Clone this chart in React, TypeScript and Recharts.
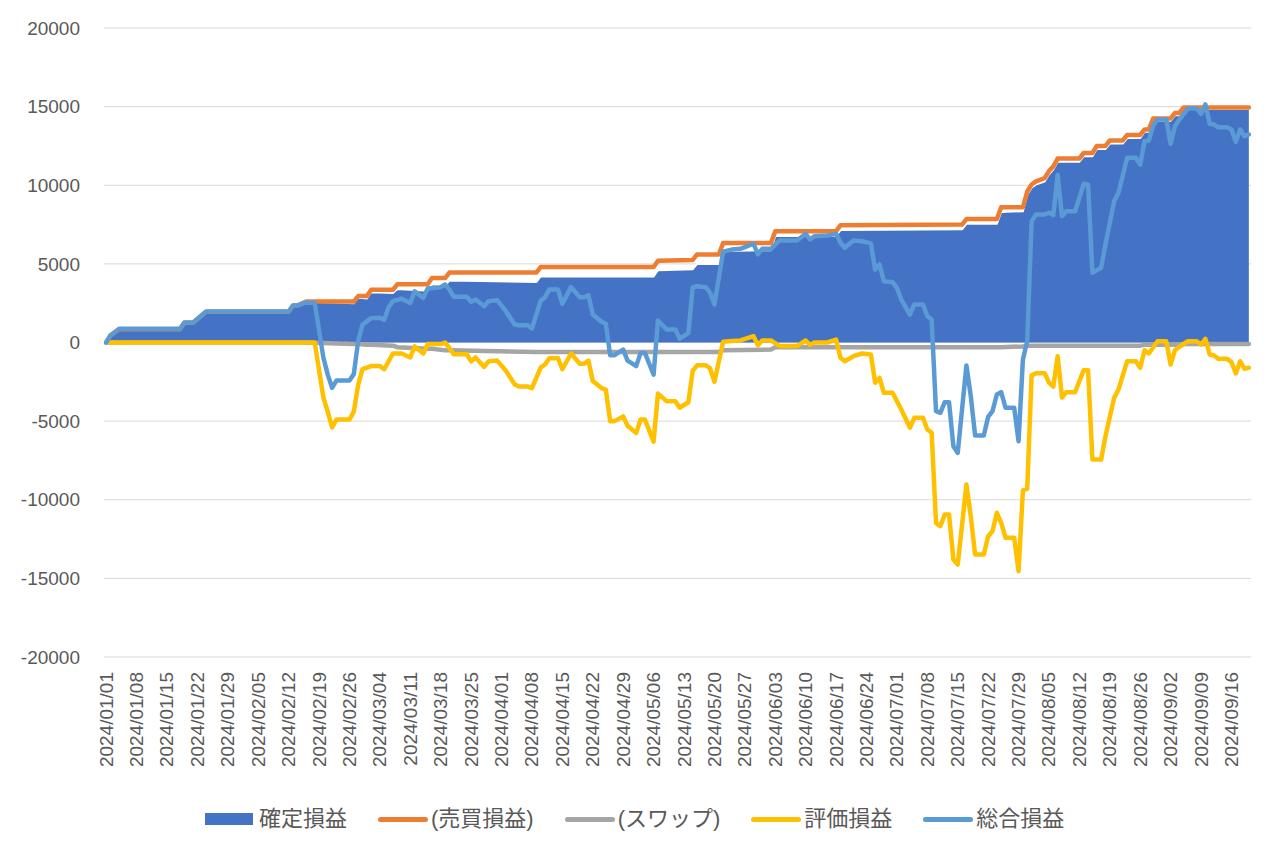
import React from "react";
import { ComposedChart, Area, Line, XAxis, YAxis, CartesianGrid } from "recharts";

// day index counted from 2024/01/01
const settleDays = [
  0, 1, 3, 17, 18, 20, 23, 42, 43, 44,
  46, 57, 58, 60, 61, 66, 67, 74, 75, 78,
  79, 99, 100, 126, 127, 135, 136, 141, 142, 153,
  154, 168, 169, 197, 198, 205, 206, 211, 212, 213,
  214, 216, 217, 218, 219, 224, 225, 227, 228, 230,
  231, 234, 235, 238, 239, 240, 241, 245, 246, 247,
  248, 263,
];

const settledPnl = [
  0, 450, 850, 850, 1250, 1250, 1950, 1950, 2350, 2350,
  2600, 2500, 2850, 2800, 3200, 3150, 3400, 3300, 3700, 3600,
  3950, 3850, 4200, 4200, 4600, 4650, 5000, 5000, 5820, 5870,
  6780, 6780, 7150, 7200, 7550, 7550, 8300, 8350, 9400, 9850,
  10050, 10250, 10700, 11000, 11500, 11500, 11850, 11850, 12300, 12300,
  12650, 12650, 13000, 13000, 13400, 13400, 14100, 14100, 14450, 14450,
  14850, 14850,
];

const tradePnl = [
  0, 450, 850, 850, 1250, 1250, 1950, 1950, 2350, 2350,
  2600, 2600, 2950, 2950, 3350, 3350, 3700, 3700, 4100, 4100,
  4450, 4450, 4800, 4800, 5200, 5250, 5600, 5600, 6320, 6320,
  7080, 7080, 7450, 7500, 7850, 7850, 8600, 8600, 9600, 10050,
  10250, 10450, 10900, 11200, 11700, 11700, 12050, 12050, 12500, 12500,
  12850, 12850, 13200, 13200, 13550, 13550, 14250, 14250, 14600, 14600,
  14950, 14950,
];

const swapPnl = [
  0, 0, 0, 0, 0, 0, 0, 0, 0, 0,
  0, -100, -100, -150, -150, -200, -300, -400, -400, -500,
  -500, -600, -600, -600, -600, -600, -600, -600, -500, -450,
  -300, -300, -300, -300, -300, -300, -300, -250, -200, -200,
  -200, -200, -200, -200, -200, -200, -200, -200, -200, -200,
  -200, -200, -200, -200, -150, -150, -150, -150, -150, -150,
  -100, -100,
];

const markDays = [
  0, 1, 3, 17, 18, 20, 23, 42, 43, 44,
  46, 48, 50, 51, 52, 53, 56, 57, 58, 59,
  61, 63, 64, 65, 66, 68, 70, 71, 73, 74,
  77, 78, 79, 80, 83, 84, 85, 87, 88, 90,
  92, 94, 95, 97, 98, 100, 101, 102, 104, 105,
  107, 109, 110, 111, 112, 114, 115, 116, 117, 119,
  120, 122, 123, 124, 126, 127, 129, 131, 132, 134,
  135, 136, 138, 139, 140, 142, 144, 146, 149, 150,
  151, 153, 155, 159, 161, 162, 163, 166, 168, 169,
  170, 172, 174, 176, 177, 178, 179, 181, 182, 183,
  185, 186, 188, 189, 190, 191, 192, 193, 194, 195,
  196, 198, 199, 200, 202, 203, 204, 205, 206, 207,
  209, 210, 211, 212, 213, 214, 216, 217, 218, 219,
  220, 221, 223, 224, 225, 226, 227, 229, 230, 232,
  233, 235, 237, 238, 239, 240, 241, 242, 244, 245,
  246, 247, 249, 251, 252, 253, 254, 255, 256, 258,
  259, 260, 261, 262, 263,
];

const evalPnl = [
  0, 0, 0, 0, 0, 0, 0, 0, 0, 0,
  0, 0, -3500, -4400, -5400, -4900, -4900, -4400, -2700, -1700,
  -1500, -1500, -1700, -1200, -700, -700, -950, -250, -700, -100,
  -100, 0, -350, -750, -750, -1200, -950, -1550, -1200, -1150,
  -1800, -2650, -2800, -2800, -2900, -1600, -1400, -1000, -1000, -1700,
  -700, -1350, -1350, -1150, -2450, -2900, -3000, -5000, -5000, -4700,
  -5300, -5750, -4900, -4900, -6300, -3250, -3730, -3730, -4150, -3800,
  -1800, -1450, -1450, -1650, -2500, 50, 100, 130, 400, -170,
  130, 130, -230, -230, 130, -150, 0, 0, 190, -970,
  -1190, -870, -700, -760, -2560, -2250, -3200, -3200, -3730, -4260,
  -5420, -4790, -4790, -5530, -5740, -11470, -11680, -10940, -10940, -13800,
  -14120, -9030, -11050, -13480, -13480, -12320, -12000, -10830, -11470, -12420,
  -12420, -14540, -9400, -9300, -2100, -1950, -1950, -2550, -2800, -870,
  -3500, -3160, -3160, -2450, -1760, -1760, -7440, -7440, -5960, -3520,
  -2990, -1190, -1190, -1610, -490, -700, -300, 80, 80, -1400,
  -490, -270, 80, 80, -130, 230, -760, -830, -1040, -1040,
  -1250, -1970, -1190, -1670, -1610,
];

const totalPnl = [
  0, 450, 870, 870, 1270, 1270, 1970, 1970, 2350, 2350,
  2550, 2520, -970, -2040, -2880, -2420, -2420, -2000, 100, 1140,
  1550, 1570, 1450, 2250, 2630, 2780, 2520, 3260, 2840, 3430,
  3520, 3690, 3370, 2910, 2910, 2590, 2730, 2310, 2620, 2690,
  1990, 1140, 1100, 1100, 890, 2650, 2880, 3370, 3370, 2460,
  3520, 2880, 2880, 3010, 1780, 1320, 1190, -810, -810, -450,
  -1150, -1500, -660, -660, -2040, 1400, 830, 830, 250, 600,
  3500, 3580, 3520, 3160, 2420, 5770, 5910, 5960, 6280, 5600,
  5960, 5960, 6490, 6490, 6910, 6550, 6760, 6800, 6910, 6340,
  6020, 6490, 6440, 6300, 4640, 4960, 3900, 3840, 3480, 2730,
  1780, 2420, 2420, 1670, 1460, -4370, -4470, -3800, -3800, -6600,
  -7020, -1460, -3410, -5910, -5910, -4730, -4370, -3310, -3160, -4150,
  -4150, -6280, -1080, 100, 7700, 8140, 8140, 8250, 8100, 10650,
  8030, 8350, 8350, 9200, 10090, 10050, 4430, 4750, 6230, 8990,
  9520, 11750, 11750, 11320, 12800, 12850, 13800, 14180, 14180, 12640,
  13760, 14180, 14880, 14880, 14540, 15140, 13910, 13860, 13690, 13690,
  13550, 12760, 13550, 13120, 13230,
];

const dateLabels = [
  "2024/01/01", "2024/01/08", "2024/01/15", "2024/01/22", "2024/01/29",
  "2024/02/05", "2024/02/12", "2024/02/19", "2024/02/26",
  "2024/03/04", "2024/03/11", "2024/03/18", "2024/03/25",
  "2024/04/01", "2024/04/08", "2024/04/15", "2024/04/22", "2024/04/29",
  "2024/05/06", "2024/05/13", "2024/05/20", "2024/05/27",
  "2024/06/03", "2024/06/10", "2024/06/17", "2024/06/24",
  "2024/07/01", "2024/07/08", "2024/07/15", "2024/07/22", "2024/07/29",
  "2024/08/05", "2024/08/12", "2024/08/19", "2024/08/26",
  "2024/09/02", "2024/09/09", "2024/09/16",
];

const yTicks = [-20000, -15000, -10000, -5000, 0, 5000, 10000, 15000, 20000];

const series = [
  { key: "settled", name: "確定損益", color: "#4472C4" },
  { key: "trade", name: "(売買損益)", color: "#ED7D31" },
  { key: "swap", name: "(スワップ)", color: "#A5A5A5" },
  { key: "eval", name: "評価損益", color: "#FFC000" },
  { key: "total", name: "総合損益", color: "#5B9BD5" },
];

const tickDays = dateLabels.map((_, i) => i * 7);

const FONT = "'Liberation Sans', 'Noto Sans CJK JP', sans-serif";
const TEXT = "#595959";

function buildRows() {
  const rows = new Map<number, any>();
  const put = (days: number[], vals: number[], key: string) => {
    days.forEach((d, i) => {
      const r = rows.get(d) ?? { day: d };
      r[key] = vals[i];
      rows.set(d, r);
    });
  };
  put(settleDays, settledPnl, "settled");
  put(settleDays, tradePnl, "trade");
  put(settleDays, swapPnl, "swap");
  put(markDays, evalPnl, "eval");
  put(markDays, totalPnl, "total");
  return [...rows.values()].sort((a, b) => a.day - b.day);
}

const data = buildRows();

const DateTick = ({ x, y, payload }: any) => (
  <text
    x={x}
    y={y}
    transform={`rotate(-90 ${x} ${y})`}
    textAnchor="end"
    dominantBaseline="central"
    fill={TEXT}
    fontSize={19}
    fontFamily={FONT}
  >
    {dateLabels[Math.round(payload.value / 7)]}
  </text>
);

const LegendRow = () => (
  <div
    style={{
      position: "absolute",
      left: 205,
      top: 806,
      height: 26,
      display: "flex",
      alignItems: "center",
      fontFamily: FONT,
      fontSize: 22,
      color: TEXT,
      whiteSpace: "nowrap",
    }}
  >
    {series.map((s, i) => (
      <div key={s.key} style={{ display: "flex", alignItems: "center", marginLeft: i === 0 ? 0 : 31 }}>
        {i === 0 ? (
          <span style={{ width: 48, height: 12, background: s.color, marginRight: 6 }} />
        ) : (
          <span style={{ width: 50, height: 5, borderRadius: 3, background: s.color, marginRight: 3 }} />
        )}
        <span style={{ position: "relative", top: -3 }}>{s.name}</span>
      </div>
    ))}
  </div>
);

const App = () => {
  return (
    <div
      style={{
        position: "relative",
        width: 1280,
        height: 856,
        margin: -8,
        background: "#fff",
        boxShadow: "inset 0 0 0 1px #d9d9d9",
      }}
    >
      <ComposedChart
        width={1280}
        height={856}
        data={data}
        margin={{ top: 28, right: 29, bottom: 69, left: 0 }}
        style={{ fontFamily: FONT }}
      >
        <CartesianGrid vertical={false} stroke="#d9d9d9" strokeWidth={1} />
        <XAxis
          type="number"
          dataKey="day"
          domain={[-0.5, 263.5]}
          ticks={tickDays}
          interval={0}
          height={130}
          axisLine={false}
          tickLine={false}
          tickMargin={9}
          tick={<DateTick />}
        />
        <YAxis
          type="number"
          domain={[-20000, 20000]}
          ticks={yTicks}
          interval={0}
          width={104}
          axisLine={false}
          tickLine={false}
          tickMargin={18}
          tick={{ fill: TEXT, fontSize: 19, fontFamily: FONT }}
        />
        <Area
          type="linear"
          dataKey="settled"
          name={series[0].name}
          fill={series[0].color}
          fillOpacity={1}
          stroke="#ffffff"
          strokeWidth={2}
          connectNulls
          dot={false}
          activeDot={false}
          isAnimationActive={false}
        />
        {series.slice(1).map((s) => (
          <Line
            key={s.key}
            type="linear"
            dataKey={s.key}
            name={s.name}
            stroke={s.color}
            strokeWidth={4.5}
            strokeLinejoin="round"
            strokeLinecap="round"
            connectNulls
            dot={false}
            activeDot={false}
            isAnimationActive={false}
          />
        ))}
      </ComposedChart>
      <LegendRow />
    </div>
  );
};

export default App;
